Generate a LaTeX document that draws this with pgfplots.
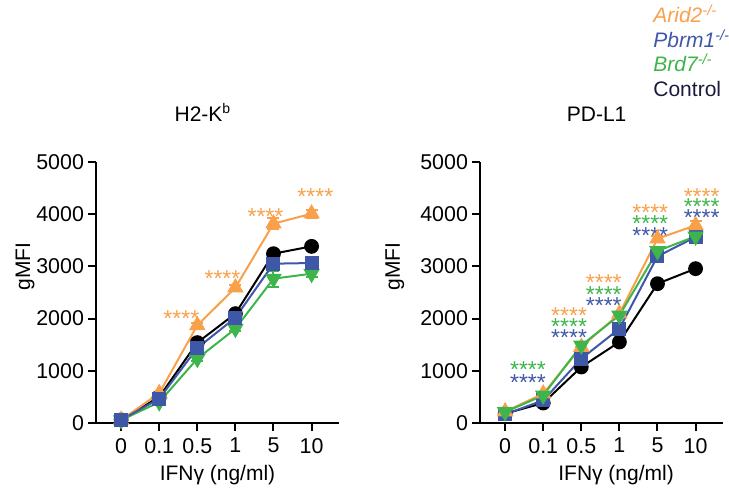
\documentclass[border=0pt]{standalone}
\usepackage{fontspec}
\setmainfont{Liberation Sans}
\usepackage{pgfplots}
\pgfplotsset{compat=1.18}

\definecolor{aridc}{HTML}{F9A04B}
\definecolor{pbrmc}{HTML}{3F57A7}
\definecolor{brdc}{HTML}{3DB54A}
\definecolor{ctrlc}{HTML}{1B1A3E}

\newcommand{\stars}[3]{\node[text=#1, anchor=base, yshift=-6.5pt, inner sep=0pt,
  font=\fontsize{11.5}{12}\selectfont] at (axis cs:#2,#3) {****};}

\pgfplotsset{
  panel/.style={
    scale only axis, width=121.5pt, height=130.5pt,
    anchor=south west,
    xmin=-0.66, xmax=5.72, ymin=0, ymax=5000,
    axis x line=bottom, axis y line=left,
    axis line style={-, line width=1pt, black},
    xtick={0,1,2,3,4,5}, xticklabels={0,0.1,0.5,1,5,10},
    ytick={0,1000,2000,3000,4000,5000},
    tick align=outside, major tick length=4pt,
    tick style={line width=1pt, black},
    /pgf/number format/assume math mode=true,
    /pgf/number format/1000 sep={},
    ticklabel style={font=\fontsize{10.7}{13}\selectfont},
    yticklabel style={xshift=1.5pt},
    label style={font=\fontsize{10.5}{12}\selectfont},
    title style={font=\fontsize{10.5}{12}\selectfont, anchor=base},
    xlabel={IFNγ (ng/ml)}, ylabel={gMFI},
    every axis plot/.append style={line width=1pt},
    error bars/y dir=both, error bars/y explicit,
    error bars/error bar style={line width=1pt},
    error bars/error mark options={rotate=90, mark size=3pt, line width=1pt},
  },
  ctrl/.style={black, mark=*, mark size=3.2pt, mark options={solid, fill=black}},
  arid/.style={aridc, mark=triangle*, mark size=3.8pt, mark options={solid, fill=aridc}},
  pbrm/.style={pbrmc, mark=square*, mark size=3pt, mark options={solid, fill=pbrmc}},
  brd/.style={brdc, mark=triangle*, mark size=3.8pt, mark options={solid, fill=brdc, rotate=180}},
}

\begin{document}
\begin{tikzpicture}
\useasboundingbox (0,0) rectangle (364.5pt,246.5pt);

% H2-Kb
\begin{axis}[panel, at={(48pt,35pt)},
  title={H2-K\textsuperscript{\scriptsize b}}, title style={at={(0.44,1)}, yshift=14.5pt},
  ylabel style={at={(-0.292,0.6)}, anchor=center},
  xlabel style={at={(0.5,0)}, anchor=base, yshift=-28.5pt}]
\addplot+[ctrl] coordinates {(0,60) (1,500) (2,1540) (3,2095) (4,3244) (5,3384)};
\addplot+[arid] coordinates {(0,60) +- (0,0) (1,570) +- (0,30) (2,1871) +- (0,50) (3,2593) +- (0,60) (4,3819) +- (0,100) (5,4010) +- (0,80)};
\addplot+[brd] coordinates {(0,55) +- (0,0) (1,400) +- (0,0) (2,1232) +- (0,40) (3,1807) +- (0,50) (4,2765) +- (0,150) (5,2860) +- (0,60)};
\addplot+[pbrm] coordinates {(0,60) (1,466) (2,1437) (3,2018) (4,3052) (5,3065)};
\stars{aridc}{1.58}{2094}
\stars{aridc}{2.66}{2873}
\stars{aridc}{3.79}{4055}
\stars{aridc}{5.10}{4438}
\end{axis}

% PD-L1
\begin{axis}[panel, at={(240pt,35pt)},
  title={PD-L1}, title style={at={(0.48,1)}, yshift=14.5pt},
  ylabel style={at={(-0.35,0.6)}, anchor=center},
  xlabel style={at={(0.56,0)}, anchor=base, yshift=-28.5pt}]
\addplot+[ctrl] coordinates {(0,180) (1,383) (2,1073) (3,1552) (4,2669) (5,2957)};
\addplot+[pbrm] coordinates {(0,166) (1,434) (2,1232) (3,1807) (4,3193) (5,3563)};
\addplot+[arid] coordinates {(0,220) +- (0,0) (1,562) +- (0,0) (2,1456) +- (0,0) (3,2094) +- (0,0) (4,3531) +- (0,60) (5,3787) +- (0,80)};
\addplot+[brd] coordinates {(0,210) (1,530) (2,1488) (3,2063) (4,3295) (5,3576)};
\stars{brdc}{0.60}{1117}
\stars{pbrmc}{0.60}{881}
\stars{aridc}{1.68}{2158}
\stars{brdc}{1.68}{1948}
\stars{pbrmc}{1.68}{1730}
\stars{aridc}{2.59}{2778}
\stars{brdc}{2.59}{2561}
\stars{pbrmc}{2.59}{2350}
\stars{aridc}{3.81}{4119}
\stars{brdc}{3.81}{3914}
\stars{pbrmc}{3.81}{3691}
\stars{aridc}{5.16}{4444}
\stars{brdc}{5.16}{4234}
\stars{pbrmc}{5.16}{4030}
\end{axis}

% legend
\begin{scope}[every node/.style={anchor=base west, inner sep=0pt, font=\fontsize{10.5}{12}\selectfont}]
\node[text=aridc] at (326.5pt,235pt) {\textit{Arid2\textsuperscript{-/-}}};
\node[text=pbrmc] at (326.5pt,222.5pt) {\textit{Pbrm1\textsuperscript{-/-}}};
\node[text=brdc] at (326.5pt,210.5pt) {\textit{Brd7\textsuperscript{-/-}}};
\node[text=ctrlc] at (326.5pt,198pt) {Control};
\end{scope}
\end{tikzpicture}
\end{document}
